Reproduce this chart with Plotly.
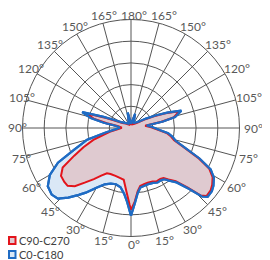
import math
import plotly.graph_objects as go

# Angles (deg): 0 = straight down, positive = right side, negative = left side
blue_theta = [-180, -168, -160, -150, -140, -130, -120, -116, -112, -108, -104, -101, -98, -94, -90,
              -85, -80, -75, -69, -64.6, -60, -55, -50, -46, -42, -38, -35, -30, -25, -20, -15, -10,
              -6, -3, 0, 3, 6, 9, 13, 17, 22, 26, 30, 33, 36, 40, 43.6, 46, 48, 52, 55, 59, 62.5,
              66, 70, 74, 78, 82, 86, 92, 99, 101.5, 104, 109, 113, 117, 122, 130, 140, 150, 158,
              164, 168, 180]
blue_r = [4, 16, 7, 5, 6, 8, 12, 18, 30, 52, 42, 28, 15, 12, 12,
          16, 26, 46, 62, 82, 95, 103, 105, 103, 95, 86, 80, 70, 63, 60, 59, 61,
          67, 75, 89, 76, 66, 61, 60, 59.5, 60, 61.5, 61, 62, 66, 72, 85, 100, 104.5, 104, 102, 98, 91,
          76, 58, 47, 43, 38, 29, 22, 16, 33, 46, 54, 40, 28, 18, 10, 7, 6, 8,
          15, 8, 4]

red_theta = [-180, -168, -160, -150, -140, -130, -120, -116, -112, -108, -104, -101, -98, -94, -90,
             -85, -80, -72.5, -68, -64, -60, -55.6, -51, -47.6, -44, -40, -36, -32, -28, -24, -18,
             -12, -8, -4, -1, 0, 3, 6, 9, 13, 17, 22, 26, 30, 33, 36, 40, 43.6, 46, 48, 52, 55, 59,
             62.5, 66, 70, 74, 78, 82, 86, 92, 99, 101.5, 104, 109, 113, 117, 122, 130, 140, 150,
             158, 164, 168, 180]
red_r = [3, 14, 6, 4, 5, 7, 10, 15, 27, 48, 39, 25, 13, 10, 10,
         13, 22, 40, 52, 64, 80, 86, 87, 87, 82, 72, 64, 57, 52, 51, 51,
         52, 53, 65, 78, 83, 74.5, 64.5, 59.5, 58.5, 58, 58.5, 60, 59.5, 60.5, 64.5, 70.5, 83.5, 98.5, 103, 102.5, 100.5, 96.5,
         89.5, 74.5, 56.5, 45.5, 41.5, 36.5, 27.5, 20.5, 14.5, 31.5, 44.5, 52, 38, 26, 16, 8, 5.5, 4.5,
         6.5, 13, 6.5, 3]

tick_vals = list(range(0, 360, 15))
tick_text = [f"{v if v <= 180 else 360 - v}°" for v in tick_vals]

series_names = ["C90-C270", "C0-C180"]

BLUE = "#1f6cc4"
RED = "#e3141b"
BLUE_FILL = "#dae8f6"
RED_FILL = "#dfcad0"
GRID = "#555555"
LABEL = "#595959"

W, H = 262, 252
OFF = 8  # page body margin: screen px = figure px + OFF
CX, CY, RAD = 131 - OFF, 128 - OFF, 108.5

fig = go.Figure()
fig.add_trace(go.Scatterpolar(
    r=blue_r, theta=blue_theta, mode="lines", fill="toself",
    fillcolor=BLUE_FILL, line=dict(color=BLUE, width=2.2),
    name=series_names[1], hoverinfo="skip"))
fig.add_trace(go.Scatterpolar(
    r=red_r, theta=red_theta, mode="lines", fill="toself",
    fillcolor=RED_FILL, line=dict(color=RED, width=2),
    name=series_names[0], hoverinfo="skip"))
fig.add_trace(go.Scatterpolar(
    r=blue_r, theta=blue_theta, mode="lines",
    line=dict(color=BLUE, width=2.2), name=series_names[1], hoverinfo="skip"))

# angular tick labels placed just outside the outer ring (0 deg at bottom, counterclockwise)
for val, txt in zip(tick_vals, tick_text):
    a = math.radians(val)
    rl = 116 + 3 * abs(math.sin(a))
    if val == 180:
        rl = 113
    px = CX + rl * math.sin(a) + 3
    if math.sin(a) < -0.9:
        px += 2.5
    py = CY + rl * math.cos(a)
    fig.add_annotation(text=txt, xref="paper", yref="paper", x=px / W, y=1 - py / H,
                       xanchor="center", yanchor="middle", showarrow=False,
                       font=dict(size=12, color=LABEL))

# compact legend (swatch + label) in the lower-left corner
legend_items = [(series_names[0], RED, RED_FILL, 240.5 - OFF), (series_names[1], BLUE, BLUE_FILL, 254.5 - OFF)]
for name, lc, fc, py in legend_items:
    fig.add_shape(type="rect", xref="paper", yref="paper",
                  x0=1 / W, x1=7.5 / W, y0=1 - (py + 3.5) / H, y1=1 - (py - 3.5) / H,
                  line=dict(color=lc, width=2), fillcolor=fc)
    fig.add_annotation(text=name, xref="paper", yref="paper", x=9 / W, y=1 - py / H,
                       xanchor="left", yanchor="middle", showarrow=False,
                       font=dict(size=11, color="#404040"))

fig.update_layout(
    width=W, height=H,
    margin=dict(l=0, r=0, t=0, b=0, autoexpand=False),
    paper_bgcolor="white", plot_bgcolor="white",
    showlegend=False,
    font=dict(family="Lato, Open Sans, sans-serif", size=12, color=LABEL),
    polar=dict(
        domain=dict(x=[(CX - RAD) / W, (CX + RAD) / W],
                    y=[1 - (CY + RAD) / H, 1 - (CY - RAD) / H]),
        bgcolor="white",
        angularaxis=dict(
            rotation=270, direction="counterclockwise",
            tickmode="array", tickvals=tick_vals, showticklabels=False,
            ticks="", showline=True, linecolor=GRID, linewidth=1,
            gridcolor=GRID, gridwidth=0.8,
        ),
        radialaxis=dict(
            range=[0, 110], tickmode="array", tickvals=[22, 44, 66, 88, 110],
            showticklabels=False, ticks="", showline=False,
            gridcolor=GRID, gridwidth=0.8,
        ),
    ),
)

fig.write_html("out.html")
